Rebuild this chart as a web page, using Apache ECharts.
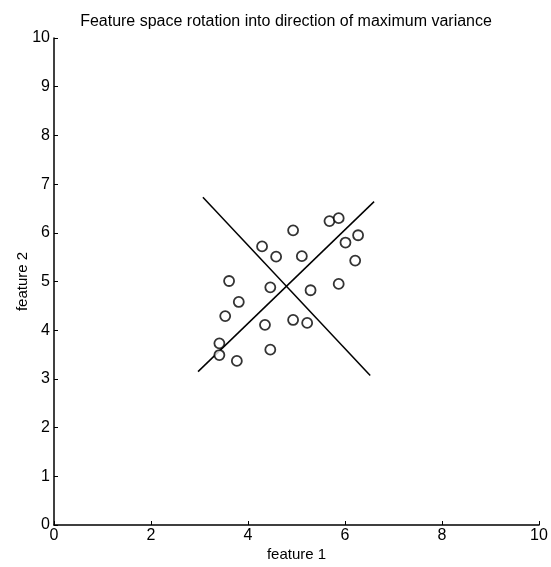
<!DOCTYPE html>
<html>
<head>
<meta charset="utf-8">
<script src="https://cdn.jsdelivr.net/npm/echarts@6/dist/echarts.min.js"></script>
<style>
  html, body { margin: 0; padding: 0; background: #fff; }
  #chart { width: 551px; height: 567px; }
</style>
</head>
<body>
<div id="chart"></div>
<script>
// scatter points (feature 1, feature 2)
const feature1 = [5.68, 5.87, 4.93, 6.27, 6.01, 4.29, 4.58, 5.11, 6.21, 3.61, 4.46,
                  5.87, 5.29, 3.81, 3.53, 4.35, 4.93, 5.22, 3.41, 3.41, 4.46, 3.77];
const feature2 = [6.24, 6.30, 6.05, 5.95, 5.80, 5.72, 5.51, 5.52, 5.43, 5.01, 4.88,
                  4.95, 4.82, 4.58, 4.29, 4.11, 4.21, 4.15, 3.73, 3.49, 3.60, 3.37];
// rotated axes (end points)
const axisMajor = [[2.97, 3.15], [6.60, 6.64]];
const axisMinor = [[3.07, 6.73], [6.52, 3.07]];

const font = "'Liberation Sans', Arial, Helvetica, sans-serif";

const chart = echarts.init(document.getElementById("chart"));
chart.setOption({
  animation: false,
  backgroundColor: "#fff",
  title: {
    text: "Feature space rotation into direction of maximum variance",
    left: 281,
    textAlign: "center",
    top: 9,
    textStyle: { fontFamily: font, fontSize: 16, fontWeight: "normal", color: "#000" }
  },
  grid: { left: 54, right: 12, top: 38, bottom: 42, outerBoundsMode: "none", containLabel: false },
  xAxis: {
    type: "value",
    min: 0,
    max: 10,
    interval: 2,
    name: "feature 1",
    nameLocation: "middle",
    nameGap: 22,
    nameMoveOverlap: false,
    nameTextStyle: { fontFamily: font, fontSize: 15, color: "#000" },
    axisLine: { show: true, lineStyle: { color: "#000", width: 1.5 } },
    axisTick: { show: true, inside: true, length: 4, lineStyle: { color: "#000" } },
    axisLabel: { fontFamily: font, fontSize: 16, color: "#000", margin: 3 },
    splitLine: { show: false }
  },
  yAxis: {
    type: "value",
    min: 0,
    max: 10,
    interval: 1,
    name: "feature 2",
    nameLocation: "middle",
    nameGap: 24,
    nameMoveOverlap: false,
    nameTextStyle: { fontFamily: font, fontSize: 15, color: "#000" },
    axisLine: { show: true, lineStyle: { color: "#000", width: 1.5 } },
    axisTick: { show: true, inside: true, length: 4, lineStyle: { color: "#000" } },
    axisLabel: { fontFamily: font, fontSize: 16, color: "#000", margin: 4 },
    splitLine: { show: false }
  },
  series: [
    {
      type: "scatter",
      data: feature1.map((x, i) => [x, feature2[i]]),
      symbol: "circle",
      symbolSize: 10,
      itemStyle: { color: "#fff", borderColor: "#000", borderWidth: 1.8 },
      z: 3
    },
    {
      type: "line",
      data: axisMajor,
      symbol: "none",
      lineStyle: { color: "#000", width: 1.5 },
      z: 2
    },
    {
      type: "line",
      data: axisMinor,
      symbol: "none",
      lineStyle: { color: "#000", width: 1.5 },
      z: 2
    }
  ]
});
</script>
</body>
</html>
